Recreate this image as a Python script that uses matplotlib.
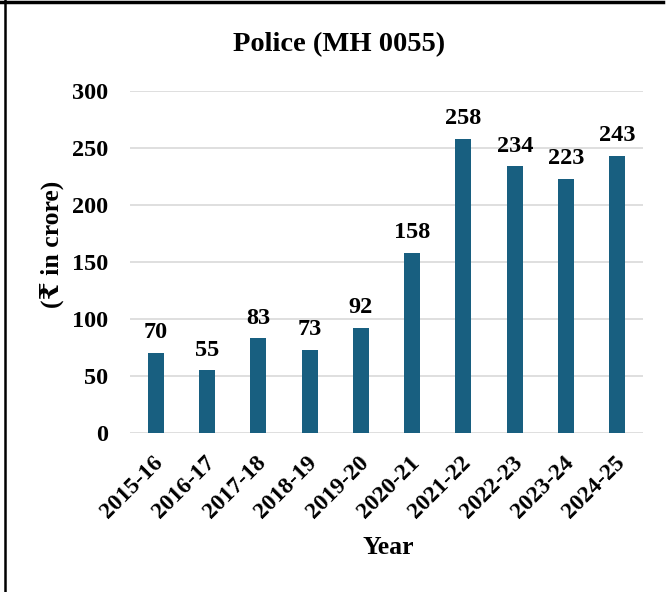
import matplotlib.pyplot as plt
from matplotlib.lines import Line2D
from matplotlib.transforms import ScaledTranslation

years = ["2015-16", "2016-17", "2017-18", "2018-19", "2019-20",
         "2020-21", "2021-22", "2022-23", "2023-24", "2024-25"]
spend = [70, 55, 83, 73, 92, 158, 258, 234, 223, 243]
y_ticks = [0, 50, 100, 150, 200, 250, 300]

SERIF = ["Liberation Serif", "DejaVu Serif", "DejaVu Sans"]
BAR_COLOR = "#185f80"

plt.rcParams["font.family"] = SERIF
plt.rcParams["font.weight"] = "bold"

fig = plt.figure(figsize=(6.68, 5.92), dpi=100)
ax = fig.add_axes([130 / 668, 159 / 592, 513 / 668, 342 / 592])

x = list(range(len(years)))
bars = ax.bar(x, spend, width=0.31, color=BAR_COLOR, zorder=3)
ax.bar_label(bars, labels=[str(v) for v in spend], padding=7,
             fontsize=17.5, fontweight="bold")

ax.set_xlim(-0.5, len(years) - 0.5)
ax.set_ylim(0, 300)
ax.set_yticks(y_ticks)
ax.set_yticklabels([str(t) for t in y_ticks], fontsize=17.5, fontweight="bold")
ax.set_xticks(x)
ax.set_xticklabels(years, rotation=45, ha="right", rotation_mode="anchor",
                   fontsize=17, fontweight="bold")
ax.tick_params(length=0)
ax.tick_params(axis="y", pad=16)
ax.tick_params(axis="x", pad=14)
shift = ScaledTranslation(-3 / 100, 0, fig.dpi_scale_trans)
for lbl in ax.get_xticklabels():
    lbl.set_transform(lbl.get_transform() + shift)
ax.grid(axis="y", color="#d9d9d9", linewidth=1.2, zorder=0)
for side in ax.spines.values():
    side.set_visible(False)

fig.text(52 / 668, 1 - 244 / 592, "(₹ in crore)", rotation=90, ha="center",
         va="center", fontsize=18.5, fontweight="bold")
fig.text(388 / 668, 1 - 548 / 592, "Year", ha="center", va="center",
         fontsize=18.5, fontweight="bold")
fig.text(339 / 668, 1 - 45 / 592, "Police (MH 0055)", ha="center", va="center",
         fontsize=20.5, fontweight="bold")

# frame lines along the top and left edges
fig.add_artist(Line2D([0, 0.993], [0.9965, 0.9965], color="black", linewidth=2.5))
fig.add_artist(Line2D([5 / 668, 5 / 668], [0, 1], color="black", linewidth=1.8))

fig.savefig("out.png", dpi=100)
